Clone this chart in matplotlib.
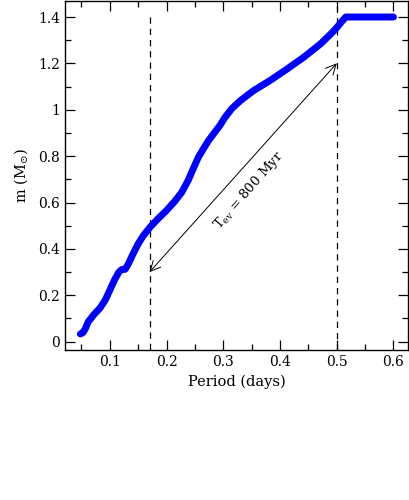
import numpy as np
import matplotlib
matplotlib.use("Agg")
import matplotlib.pyplot as plt
from matplotlib.ticker import MultipleLocator

# period (days) vs donor mass
period = [0.048, 0.053, 0.057, 0.062, 0.072, 0.083, 0.092, 0.100, 0.109, 0.116,
          0.121, 0.127, 0.133, 0.142, 0.150, 0.159, 0.171, 0.185, 0.200, 0.214,
          0.227, 0.238, 0.246, 0.256, 0.265, 0.274, 0.284, 0.294, 0.303, 0.315,
          0.330, 0.353, 0.383, 0.412, 0.441, 0.471, 0.490, 0.500, 0.508, 0.516,
          0.540, 0.570, 0.600]
mass = [0.033, 0.040, 0.057, 0.086, 0.117, 0.146, 0.180, 0.222, 0.270, 0.300,
        0.311, 0.312, 0.337, 0.384, 0.422, 0.457, 0.494, 0.530, 0.566, 0.604,
        0.645, 0.695, 0.740, 0.795, 0.832, 0.867, 0.900, 0.932, 0.967, 1.005,
        1.039, 1.082, 1.127, 1.175, 1.225, 1.283, 1.328, 1.354, 1.378, 1.400,
        1.400, 1.400, 1.400]

p_start, p_end = 0.17, 0.50
m_start, m_end = 0.30, 1.20

plt.rcParams['font.family'] = ['DejaVu Serif']
plt.rcParams['mathtext.fontset'] = 'dejavuserif'

fig = plt.figure(figsize=(4.09, 5.0), dpi=100)
ax = fig.add_axes([0.159, 0.30, 0.839, 0.698])

ax.plot(period, mass, color='#0000ff', lw=5, solid_capstyle='round',
        solid_joinstyle='round', zorder=3)

ax.plot([p_start, p_start], [1.4, -0.1], ls=(0, (5, 4)), color='black', lw=0.9)
ax.axvline(p_end, ls=(0, (5, 4)), color='black', lw=0.9)

ax.annotate('', xy=(p_end, m_end), xytext=(p_start, m_start),
            arrowprops=dict(arrowstyle='<->', color='black', lw=0.7,
                            mutation_scale=18, shrinkA=0, shrinkB=0))
ax.text(0.345, 0.652, r'T$_{\rm ev}$ = 800 Myr', rotation=49,
        ha='center', va='center', fontsize=9.5)

ax.set_xlim(0.021, 0.626)
ax.set_ylim(-0.036, 1.469)
ax.xaxis.set_minor_locator(MultipleLocator(0.05))
ax.yaxis.set_minor_locator(MultipleLocator(0.1))
ax.set_xticks([0.1, 0.2, 0.3, 0.4, 0.5, 0.6])
ax.set_xticklabels(['0.1', '0.2', '0.3', '0.4', '0.5', '0.6'])
ax.set_yticks([0, 0.2, 0.4, 0.6, 0.8, 1.0, 1.2, 1.4])
ax.set_yticklabels(['0', '0.2', '0.4', '0.6', '0.8', '1', '1.2', '1.4'])
ax.tick_params(which='both', direction='in', top=True, right=True, labelsize=10)
ax.tick_params(which='major', length=7, width=0.9)
ax.tick_params(which='minor', length=4, width=0.9)
for s in ax.spines.values():
    s.set_linewidth(1.0)

ax.set_xlabel('Period (days)', fontsize=10.5, labelpad=4)
ax.set_ylabel(r'm (M$_{\odot}$)', fontsize=10.5, labelpad=6)

fig.savefig('out.png', dpi=100)
